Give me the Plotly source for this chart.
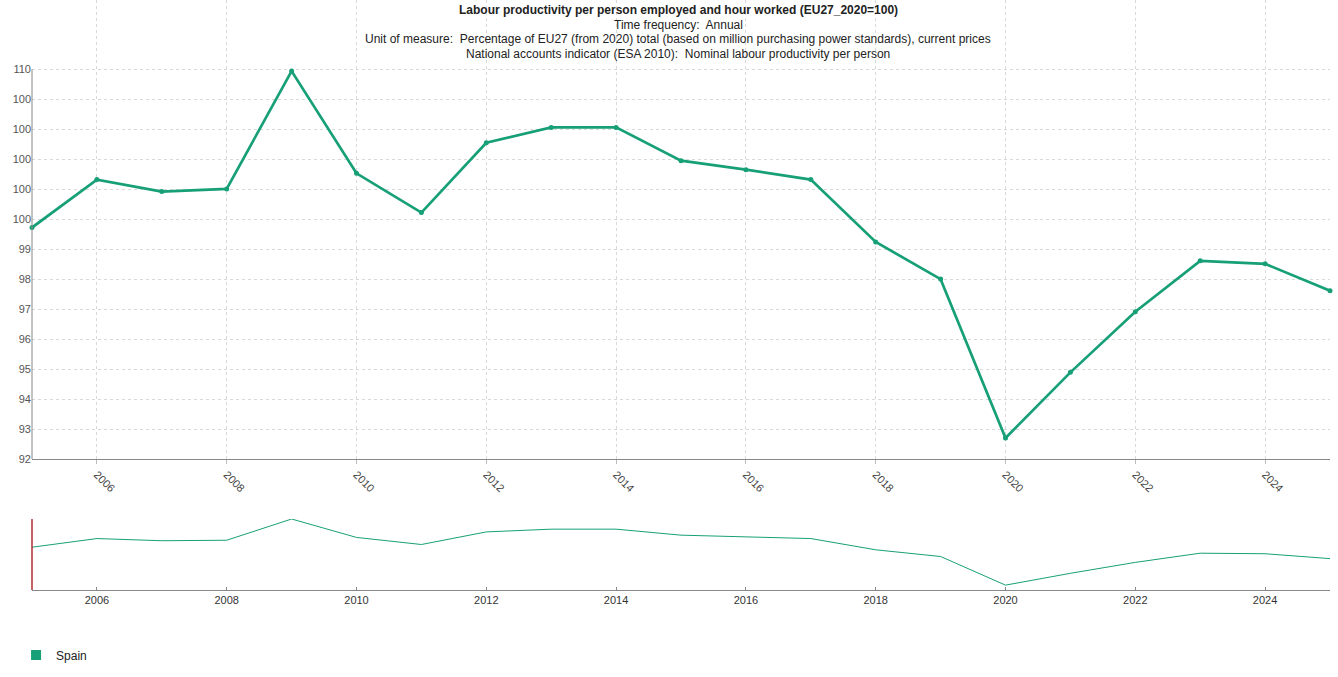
import plotly.graph_objects as go

years = list(range(2005, 2026))
spain = [99.72, 101.32, 100.92, 101.01, 104.94, 101.53, 100.22, 102.55, 103.06, 103.06,
         101.95, 101.65, 101.32, 99.24, 98.00, 92.70, 94.89, 96.91, 98.61, 98.51, 97.61]

y_tickvals = [92, 93, 94, 95, 96, 97, 98, 99, 100, 101, 102, 103, 104, 105]
y_ticktext = ["92", "93", "94", "95", "96", "97", "98", "99", "100", "100", "100", "100", "100", "110"]
x_tickvals = [2006, 2008, 2010, 2012, 2014, 2016, 2018, 2020, 2022, 2024]

title_lines = [
    "<b>Labour productivity per person employed and hour worked (EU27_2020=100)</b>",
    "Time frequency:  Annual",
    "Unit of measure:  Percentage of EU27 (from 2020) total (based on million purchasing power standards), current prices",
    "National accounts indicator (ESA 2010):  Nominal labour productivity per person",
]

GREEN = "#17a077"
FONT = "Liberation Sans, Arial, sans-serif"
GRID = "#d9d9d9"

fig = go.Figure()
fig.add_trace(go.Scatter(
    x=years, y=spain, mode="lines+markers", name="Spain", showlegend=False,
    line=dict(color=GREEN, width=2.7), marker=dict(color=GREEN, size=5),
    xaxis="x", yaxis="y", cliponaxis=False,
))
fig.add_trace(go.Scatter(
    x=years, y=spain, mode="lines", name="Spain", showlegend=False,
    line=dict(color=GREEN, width=1), xaxis="x2", yaxis="y2",
))
fig.add_trace(go.Scatter(
    x=[None], y=[None], mode="markers", name="Spain", showlegend=True,
    marker=dict(color=GREEN, size=10, symbol="square"), xaxis="x", yaxis="y",
))

W, H = 1338, 677
fig.update_layout(
    width=W, height=H,
    margin=dict(l=32, r=8, t=0, b=0, autoexpand=False),
    paper_bgcolor="white", plot_bgcolor="white",
    font=dict(family=FONT, size=11, color="#444"),
    xaxis=dict(
        domain=[0, 1], range=[2005, 2025], tickvals=x_tickvals, tickangle=45,
        showgrid=True, gridcolor=GRID, griddash="3px,3px", gridwidth=1,
        showline=True, linecolor="#888", linewidth=1, ticks="outside", ticklen=4,
        tickcolor="#bbb", zeroline=False, anchor="y", automargin=False,
        tickfont=dict(size=11, color="#444"),
    ),
    yaxis=dict(
        domain=[1 - 459 / H, 1], range=[92, 105 + 69 / 29.87],
        tickvals=y_tickvals, ticktext=y_ticktext,
        showgrid=True, gridcolor=GRID, griddash="3px,3px", gridwidth=1,
        showline=False, zeroline=False, ticks="", anchor="x", automargin=False,
        tickfont=dict(size=11, color="#555"),
    ),
    xaxis2=dict(
        domain=[0, 1], range=[2005, 2025], tickvals=x_tickvals, tickangle=0,
        showgrid=False, showline=True, linecolor="#888", linewidth=1,
        ticks="inside", ticklen=3, tickcolor="#888", zeroline=False, anchor="y2",
        automargin=False, tickfont=dict(size=11, color="#333"),
    ),
    yaxis2=dict(
        domain=[1 - 590 / H, 1 - 519 / H], range=[91.8, 104.94],
        showgrid=False, showticklabels=False, showline=False, zeroline=False,
        ticks="", anchor="x2", automargin=False,
    ),
    legend=dict(
        orientation="h", xref="container", yref="container",
        x=0.012, y=1 - 655 / H, xanchor="left", yanchor="middle",
        font=dict(size=12, color="#222"), itemwidth=30,
    ),
    showlegend=True,
)

# y axis line (only spans the ticked range)
fig.add_shape(type="line", xref="x domain", yref="y", x0=0, x1=0,
              y0=y_tickvals[0], y1=y_tickvals[-1], line=dict(color="#888", width=1))
# range selector handle on mini chart
fig.add_shape(type="line", xref="x2 domain", yref="y2 domain", x0=0, x1=0,
              y0=0, y1=1, line=dict(color="#b03030", width=1.5))

for i, t in enumerate(title_lines):
    fig.add_annotation(
        text=t, xref="paper", yref="paper", x=0.498, y=1 - (10 + 14.6 * i) / H,
        xanchor="center", yanchor="middle", showarrow=False,
        font=dict(size=12, color="#222", family=FONT),
    )

fig.write_html(
    "out.html",
    config={"displayModeBar": False},
    post_script="document.body.style.margin='0';document.body.style.overflow='hidden';",
)
